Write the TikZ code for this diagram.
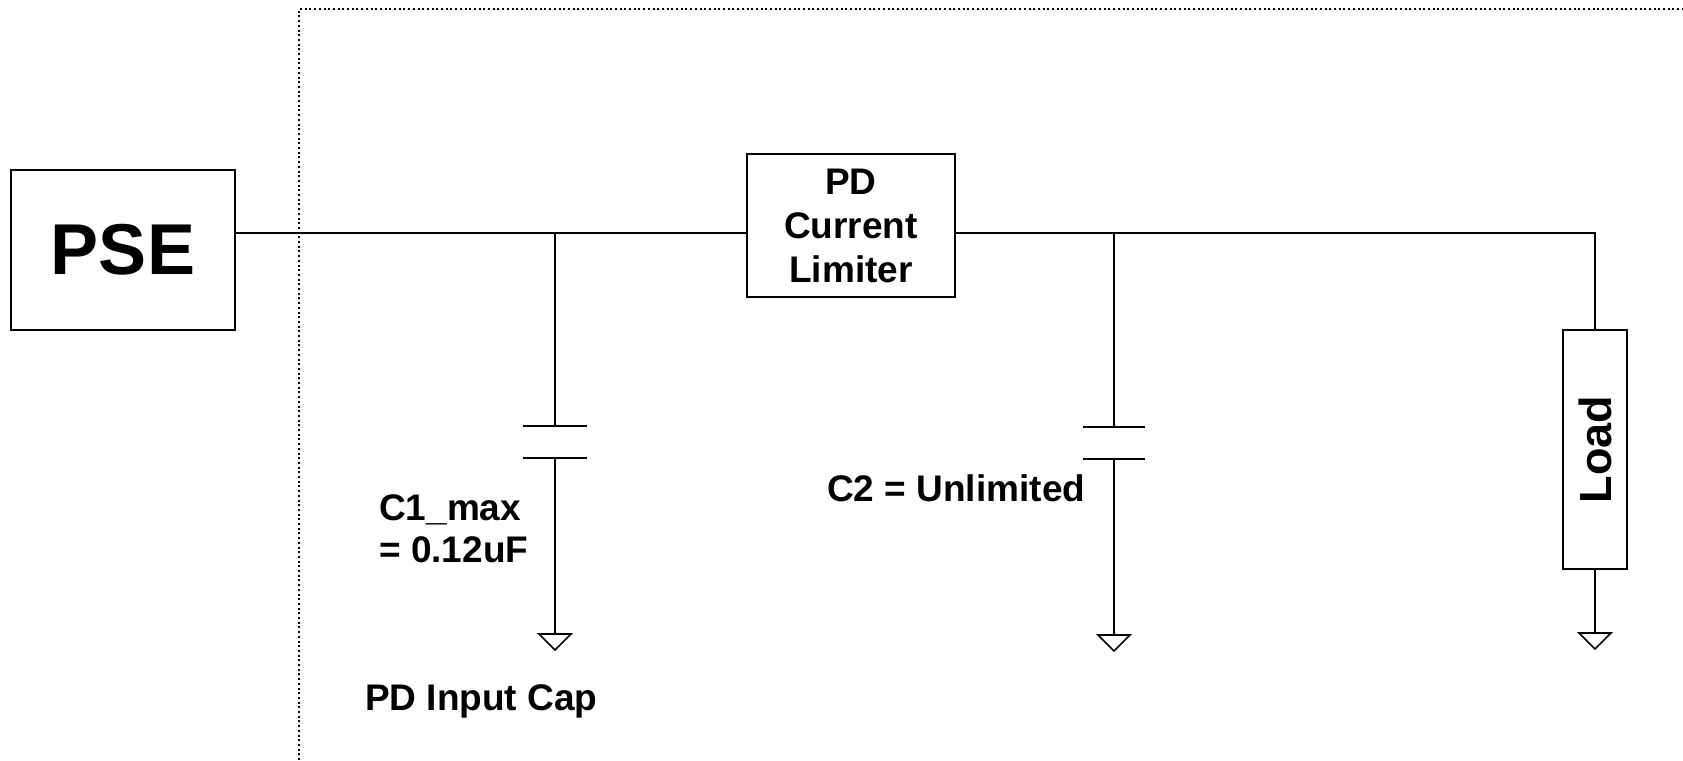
\documentclass[tikz,border=0pt]{standalone}
\usepackage{fontspec}
\setmainfont{Liberation Sans}
\begin{document}
\begin{tikzpicture}[x=1pt,y=1pt,
  wire/.style={line width=2pt},
  box/.style={draw, line width=2pt, inner sep=0pt, align=center, font=\bfseries\fontsize{37}{44}\selectfont},
  lbl/.style={inner sep=0pt, align=left, font=\bfseries\fontsize{37}{42}\selectfont},
  border/.style={line width=2pt, dash pattern=on 2pt off 2.7pt},
  gnd/.style={line width=1.6pt, line join=miter}]
\path[use as bounding box] (0,0) rectangle (1683,-760);
% boxes
\node[box, minimum width=224pt, minimum height=160pt, font=\bfseries\fontsize{72}{80}\selectfont] (pse) at (123,-250) {PSE};
\node[box, minimum width=208pt, minimum height=143pt] (lim) at (851,-225.5) {PD\\Current\\Limiter};
\node[box, rotate=90, minimum width=239pt, minimum height=64pt, font=\bfseries\fontsize{45}{50}\selectfont] (load) at (1595,-449.5) {Load};
% coordinates
\coordinate (j1) at (555,-233);
\coordinate (c1a) at (555,-426);
\coordinate (c1b) at (555,-458);
\coordinate (g1) at (555,-634);
\coordinate (j2) at (1114,-233);
\coordinate (c2a) at (1114,-427);
\coordinate (c2b) at (1114,-459);
\coordinate (g2) at (1114,-635);
\coordinate (k) at (1595,-233);
\coordinate (g3) at (1595,-633);
% wires
\draw[wire] (j1 -| pse.east) -- (j1 -| lim.west);
\draw[wire] (j1 -| lim.east) -- (k) -- (load.east);
\draw[wire] (j1) -- (c1a);
\draw[wire] ([xshift=-32pt]c1a) -- ([xshift=32pt]c1a);
\draw[wire] ([xshift=-32pt]c1b) -- ([xshift=32pt]c1b);
\draw[wire] (c1b) -- (g1);
\draw[wire] (j2) -- (c2a);
\draw[wire] ([xshift=-31pt]c2a) -- ([xshift=31pt]c2a);
\draw[wire] ([xshift=-31pt]c2b) -- ([xshift=31pt]c2b);
\draw[wire] (c2b) -- (g2);
\draw[wire] (load.west) -- (g3);
% grounds
\draw[gnd] ([xshift=-16pt]g1) -- ([xshift=16pt]g1) -- ([yshift=-16pt]g1) -- cycle;
\draw[gnd] ([xshift=-16pt]g2) -- ([xshift=16pt]g2) -- ([yshift=-16pt]g2) -- cycle;
\draw[gnd] ([xshift=-16pt]g3) -- ([xshift=16pt]g3) -- ([yshift=-16pt]g3) -- cycle;
% labels
\node[lbl, anchor=base west] (c1l) at (379,-562) {C1\_max\\= 0.12uF};
\node[lbl, anchor=base west] (pdin) at (365,-710) {PD Input Cap};
\node[lbl, anchor=base west] (c2l) at (827,-501) {C2 = Unlimited};
% dotted boundary
\draw[border] (299,-760) -- (299,-9) -- (1683,-9);
\end{tikzpicture}
\end{document}
